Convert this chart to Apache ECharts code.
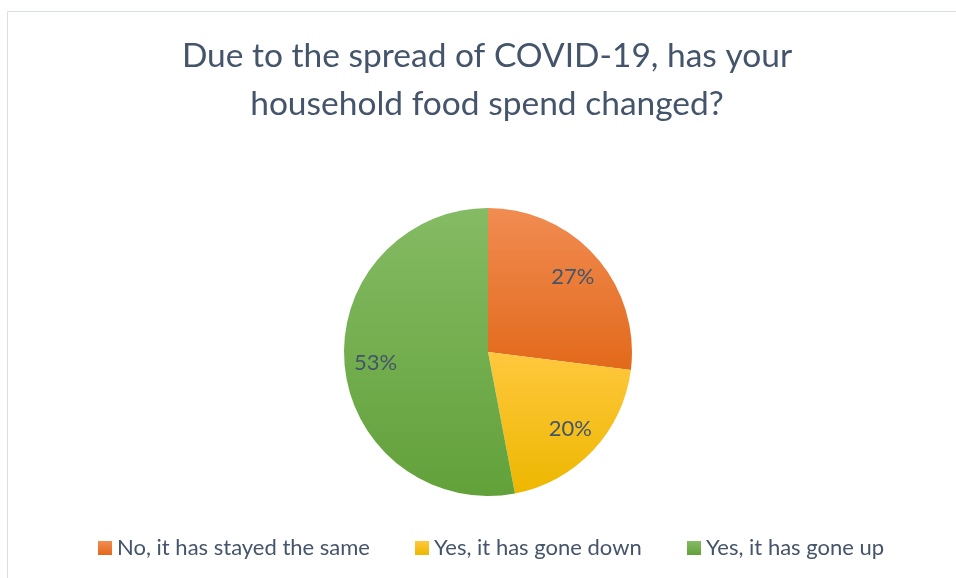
<!DOCTYPE html>
<html>
<head>
<meta charset="utf-8">
<script src="https://cdn.jsdelivr.net/npm/echarts@6/dist/echarts.min.js"></script>
<style>
  html, body { margin: 0; padding: 0; background: #fff; }
  #chart { width: 956px; height: 578px; }
</style>
</head>
<body>
<div id="chart"></div>
<script>
// data
const categories = ['No, it has stayed the same', 'Yes, it has gone down', 'Yes, it has gone up'];
const shares = [27, 20, 53];
// slice colours: light (top) / dark (bottom)
const topColors = ['#F18C52', '#FFC83E', '#85BB64'];
const bottomColors = ['#E2691B', '#EDB700', '#62A13A'];
const legendLeft = [98, 415, 687];

const chart = echarts.init(document.getElementById('chart'), null, { renderer: 'canvas' });

const FONT = 'Lato';
const TEXT = '#44546A';

function grad(i) {
  return new echarts.graphic.LinearGradient(0, 0, 0, 1, [
    { offset: 0, color: topColors[i] },
    { offset: 1, color: bottomColors[i] }
  ]);
}

const pieData = categories.map((name, i) => ({
  name: name,
  value: shares[i],
  itemStyle: { color: grad(i) }
}));

// one legend per item so each sits where it does in the picture
const legends = categories.map((name, i) => ({
  data: [name],
  left: legendLeft[i],
  top: 537,
  padding: 0,
  itemWidth: 14,
  itemHeight: 14,
  itemGap: 4,
  icon: 'rect',
  selectedMode: false,
  textStyle: { fontFamily: FONT, fontSize: 22, color: TEXT, padding: [0, 0, 0, 0] }
}));

const option = {
  backgroundColor: '#fff',
  animation: false,
  title: {
    text: 'Due to the spread of COVID-19, has your\nhousehold food spend changed?',
    // centred on the plot area (x≈487), not the page
    left: 482,
    textAlign: 'center',
    top: 27,
    textStyle: {
      fontFamily: FONT,
      fontSize: 33.5,
      fontWeight: 'normal',
      color: TEXT,
      lineHeight: 48
    }
  },
  legend: legends,
  graphic: [{
    type: 'rect',
    shape: { x: 7.5, y: 11.5, width: 1000, height: 700 },
    style: { fill: 'none', stroke: '#D9DEE5', lineWidth: 1 },
    silent: true,
    z: -1
  }],
  series: [
    {
      type: 'pie',
      center: [488, 352],
      radius: [0, 144],
      startAngle: 90,
      clockwise: true,
      label: { show: false },
      labelLine: { show: false },
      emphasis: { disabled: true },
      data: pieData
    },
    {
      // transparent ring only to put the % labels further out, like Excel does
      type: 'pie',
      center: [488, 352],
      radius: [76, 144],
      startAngle: 90,
      clockwise: true,
      silent: true,
      itemStyle: { color: 'rgba(0,0,0,0)' },
      label: {
        show: true,
        position: 'inside',
        formatter: '{c}%',
        fontFamily: FONT,
        fontSize: 22,
        color: TEXT
      },
      labelLine: { show: false },
      emphasis: { disabled: true },
      data: categories.map((name, i) => ({ name: name + ' ', value: shares[i] }))
    }
  ]
};

chart.setOption(option);
</script>
</body>
</html>
